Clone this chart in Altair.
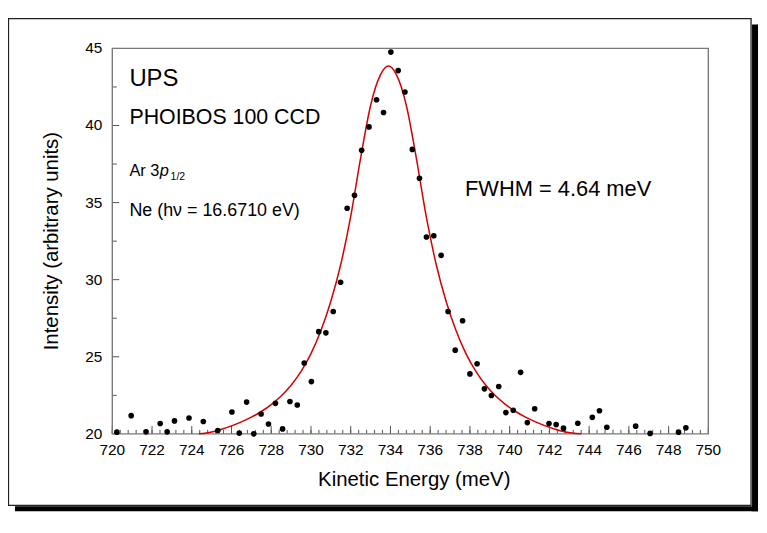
import altair as alt
import pandas as pd

# ---- measured data points (Kinetic energy in meV, intensity in arbitrary units)
energy = [720.23, 720.95, 721.70, 722.41, 722.76, 723.13, 723.86, 724.58, 725.31, 726.02,
          726.39, 726.76, 727.12, 727.49, 727.86, 728.21, 728.57, 728.94, 729.31, 729.66,
          730.02, 730.39, 730.75, 731.12, 731.49, 731.82, 732.19, 732.55, 732.92, 733.30,
          733.65, 734.02, 734.39, 734.73, 735.10, 735.46, 735.81, 736.18, 736.55, 736.90,
          737.26, 737.63, 738.00, 738.36, 738.73, 739.08, 739.45, 739.81, 740.18, 740.55,
          740.89, 741.26, 741.98, 742.34, 742.71, 743.43, 744.16, 744.52, 744.89, 746.34,
          747.07, 748.50, 748.87]
intensity = [20.11, 21.18, 20.13, 20.67, 20.13, 20.84, 21.03, 20.80, 20.22, 21.42,
             20.05, 22.06, 20.00, 21.29, 20.64, 21.98, 20.32, 22.10, 21.87, 24.59,
             23.39, 26.63, 26.55, 27.94, 29.83, 34.63, 35.47, 38.39, 39.91, 41.67,
             40.84, 44.76, 43.56, 42.17, 38.45, 36.58, 32.77, 32.85, 31.58, 27.94,
             25.43, 27.34, 23.89, 24.55, 22.92, 22.49, 23.07, 21.38, 21.53, 23.99,
             20.73, 21.63, 20.67, 20.60, 20.37, 20.69, 21.07, 21.50, 20.43, 20.50,
             20.03, 20.11, 20.39]

# ---- fitted curve
fit_energy = [724.36, 725.0, 725.5, 726.0, 726.5, 727.0, 727.5, 728.0, 728.5, 729.0,
              729.5, 730.0, 730.5, 731.0, 731.5, 732.0, 732.5, 733.0, 733.5, 733.9,
              734.3, 734.8, 735.3, 735.8, 736.3, 736.8, 737.3, 737.8, 738.3, 738.8,
              739.3, 739.8, 740.3, 740.8, 741.3, 741.8, 742.3, 742.8, 743.6]
fit_intensity = [20.0, 20.12, 20.3, 20.52, 20.78, 21.08, 21.45, 21.9, 22.45, 23.15,
                 24.05, 25.2, 26.7, 28.6, 31.0, 34.1, 37.9, 41.3, 43.3, 43.86,
                 43.3, 41.3, 37.9, 34.1, 31.0, 28.6, 26.7, 25.2, 24.05, 23.15,
                 22.45, 21.9, 21.45, 21.08, 20.78, 20.52, 20.3, 20.12, 20.0]

# ---- axis ticks and labels
x_major = [720, 722, 724, 726, 728, 730, 732, 734, 736, 738, 740, 742, 744, 746, 748, 750]
x_minor = [round(720 + 0.4 * i, 2) for i in range(76)]
y_major = [20, 25, 30, 35, 40, 45]
y_minor = [22.5, 27.5, 32.5, 37.5, 42.5]
x_title = "Kinetic Energy (meV)"
y_title = "Intensity (arbitrary units)"

# ---- annotation texts
ann_ups = "UPS"
ann_phoibos = "PHOIBOS 100 CCD"
ann_ar = "Ar 3"
ann_p = "p"
ann_sub = "1/2"
ann_ne = "Ne (h\u03bd = 16.6710 eV)"
ann_fwhm = "FWHM = 4.64 meV"

FONT = "Liberation Sans"
W, H = 600, 388

xs = alt.Scale(domain=[720, 750], nice=False, zero=False)
ys = alt.Scale(domain=[20, 45], nice=False, zero=False)

one = pd.DataFrame({"a": [0]})

# decoration: shadow + frame
shadow_r = alt.Chart(one).mark_rect(color="black").encode(
    x=alt.value(644), x2=alt.value(650), y=alt.value(-24), y2=alt.value(466))
shadow_b = alt.Chart(one).mark_rect(color="black").encode(
    x=alt.value(-98), x2=alt.value(650), y=alt.value(461), y2=alt.value(466))
frame = alt.Chart(one).mark_rect(filled=False, stroke="#222222", strokeWidth=1.3).encode(
    x=alt.value(-104.5), x2=alt.value(643), y=alt.value(-30), y2=alt.value(460))

pts = pd.DataFrame({"E": energy, "I": intensity})
fit = pd.DataFrame({"E": fit_energy, "I": fit_intensity})

points = alt.Chart(pts).mark_circle(size=32, color="black", opacity=1).encode(
    x=alt.X("E:Q", scale=xs, axis=None),
    y=alt.Y("I:Q", scale=ys, axis=None))

curve = alt.Chart(fit).mark_line(color="#d40000", strokeWidth=1.5, interpolate="monotone").encode(
    x=alt.X("E:Q", scale=xs, axis=None), y=alt.Y("I:Q", scale=ys, axis=None))

tick_col = "#555555"
xt_major = alt.Chart(pd.DataFrame({"v": x_major})).mark_rule(color=tick_col, strokeWidth=1).encode(
    x=alt.X("v:Q", scale=xs, axis=None), y=alt.value(H), y2=alt.value(H - 8))
xt_minor = alt.Chart(pd.DataFrame({"v": x_minor})).mark_rule(color=tick_col, strokeWidth=1).encode(
    x=alt.X("v:Q", scale=xs, axis=None), y=alt.value(H), y2=alt.value(H - 4))
yt_major = alt.Chart(pd.DataFrame({"v": y_major})).mark_rule(color=tick_col, strokeWidth=1).encode(
    y=alt.Y("v:Q", scale=ys, axis=None), x=alt.value(0), x2=alt.value(7))
yt_minor = alt.Chart(pd.DataFrame({"v": y_minor})).mark_rule(color=tick_col, strokeWidth=1).encode(
    y=alt.Y("v:Q", scale=ys, axis=None), x=alt.value(0), x2=alt.value(4.5))

x_labels = alt.Chart(pd.DataFrame({"v": x_major})).mark_text(
    align="center", baseline="top", font=FONT, fontSize=15.5, color="black").encode(
    x=alt.X("v:Q", scale=xs, axis=None), y=alt.value(H + 9), text=alt.Text("v:Q", format="d"))
y_labels = alt.Chart(pd.DataFrame({"v": y_major})).mark_text(
    align="right", baseline="middle", font=FONT, fontSize=15.5, color="black").encode(
    y=alt.Y("v:Q", scale=ys, axis=None), x=alt.value(-10), text=alt.Text("v:Q", format="d"))

x_title_mark = alt.Chart(pd.DataFrame({"t": [x_title]})).mark_text(
    align="center", baseline="alphabetic", font=FONT, fontSize=20.5, color="black").encode(
    x=alt.value(304), y=alt.value(H + 52), text="t:N")
y_title_mark = alt.Chart(pd.DataFrame({"t": [y_title]})).mark_text(
    align="center", baseline="alphabetic", font=FONT, fontSize=20.5, color="black", angle=270).encode(
    x=alt.value(-55), y=alt.value(H / 2), text="t:N")

border = alt.Chart(one).mark_rect(filled=False, stroke="#7a7a7a", strokeWidth=1.4).encode(
    x=alt.value(0), x2=alt.value(W), y=alt.value(0), y2=alt.value(H))


def label(txt, xv, yv, size, style="normal", dx=0, dy=0):
    return alt.Chart(pd.DataFrame({"t": [txt], "x": [xv], "y": [yv]})).mark_text(
        align="left", baseline="alphabetic", font=FONT, fontSize=size, fontStyle=style,
        color="black", dx=dx, dy=dy).encode(
        x=alt.X("x:Q", scale=xs, axis=None), y=alt.Y("y:Q", scale=ys, axis=None), text="t:N")


texts = [
    label(ann_ups, 720.86, 42.57, 24),
    label(ann_phoibos, 720.86, 40.13, 21.5),
    label(ann_ar, 720.86, 36.72, 16.5),
    label(ann_p, 720.86, 36.72, 16.5, style="italic", dx=30.5),
    label(ann_sub, 720.86, 36.72, 10.5, dx=41.5, dy=4),
    label(ann_ne, 720.86, 34.11, 18),
    label(ann_fwhm, 737.75, 35.43, 22),
]

chart = alt.layer(
    shadow_r, shadow_b, frame, xt_minor, xt_major, yt_minor, yt_major, border,
    x_labels, y_labels, x_title_mark, y_title_mark,
    curve, points, *texts
).properties(
    width=W, height=H,
    autosize=alt.AutoSizeParams(type="none"),
    padding={"left": 105, "top": 39, "right": 51, "bottom": 81},
    background="white",
).configure_view(stroke=None)

chart.save("out.html", embed_options={"renderer": "svg", "actions": False})
